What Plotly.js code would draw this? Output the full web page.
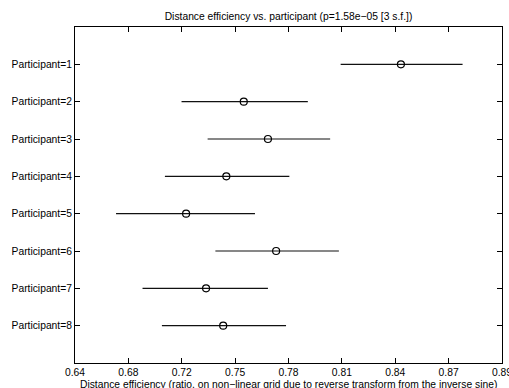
<!DOCTYPE html>
<html>
<head>
<meta charset="utf-8">
<script src="https://cdn.plot.ly/plotly-3.0.1.min.js"></script>
<style>html,body{margin:0;padding:0;background:#fff;}</style>
</head>
<body>
<div id="chart" style="width:509px;height:388px;"></div>
<script>
// Data (ratio units)
const participants = ['Participant=1','Participant=2','Participant=3','Participant=4','Participant=5','Participant=6','Participant=7','Participant=8'];
const meanRatio  = [0.846, 0.755, 0.770, 0.744, 0.718, 0.775, 0.731, 0.742];
const lowerRatio = [0.813, 0.715, 0.732, 0.704, 0.671, 0.737, 0.689, 0.702];
const upperRatio = [0.877, 0.794, 0.807, 0.783, 0.762, 0.812, 0.770, 0.781];
const tickLabels = ['0.64','0.68','0.72','0.75','0.78','0.81','0.84','0.87','0.89'];
const gridStart = 0.930;   // inverse-sine units
const gridEnd = 1.2412;

const tf = p => Math.asin(Math.sqrt(p));
const rowIdx = participants.map((_, i) => i + 1);
const meanT = meanRatio.map(tf);
const plus = upperRatio.map((u, i) => tf(u) - meanT[i]);
const minus = lowerRatio.map((l, i) => meanT[i] - tf(l));
const tickVals = tickLabels.map((_, i) => gridStart + i * (gridEnd - gridStart) / (tickLabels.length - 1));

const trace = {
  type: 'scatter',
  mode: 'markers',
  x: meanT,
  y: rowIdx,
  marker: {symbol: 'circle-open', size: 7, color: '#000', line: {width: 1.2, color: '#000'}},
  error_x: {type: 'data', symmetric: false, array: plus, arrayminus: minus, width: 0, thickness: 1.2, color: '#111'},
  hoverinfo: 'none',
  cliponaxis: false
};

const font = {family: 'Liberation Sans, Arial, Helvetica, sans-serif', size: 10.3, color: '#000'};
const layout = {
  width: 509, height: 388,
  margin: {l: 75, r: 7, t: 27, b: 25, pad: 0},
  paper_bgcolor: '#fff', plot_bgcolor: '#fff',
  showlegend: false,
  font: font,
  title: {text: 'Distance efficiency vs. participant (p=1.58e\u221205 [3 s.f.])', font: {family: font.family, size: 10.3, color: '#000'},
          x: 0.5, xref: 'paper', xanchor: 'center', y: 1 - 16.5/388, yref: 'container', yanchor: 'middle'},
  xaxis: {
    range: [gridStart, gridEnd], tickmode: 'array', tickvals: tickVals, ticktext: tickLabels,
    ticks: 'inside', ticklen: 5, tickcolor: '#000', tickwidth: 1, ticklabeloverflow: 'allow',
    showline: true, linecolor: '#000', linewidth: 1, mirror: 'ticks',
    showgrid: false, zeroline: false, tickfont: font
  },
  yaxis: {
    range: [9, 0], tickmode: 'array', tickvals: rowIdx, ticktext: participants,
    ticks: 'inside', ticklen: 5, tickcolor: '#000', tickwidth: 1,
    showline: true, linecolor: '#000', linewidth: 1, mirror: 'ticks',
    showgrid: false, zeroline: false, tickfont: font
  },
  annotations: [{
    text: 'Distance efficiency (ratio, on non\u2212linear grid due to reverse transform from the inverse sine)',
    xref: 'paper', yref: 'paper', x: 0.5, y: -21/336, xanchor: 'center', yanchor: 'middle',
    showarrow: false, font: font
  }]
};

Plotly.newPlot('chart', [trace], layout, {staticPlot: true, displayModeBar: false});
</script>
</body>
</html>
